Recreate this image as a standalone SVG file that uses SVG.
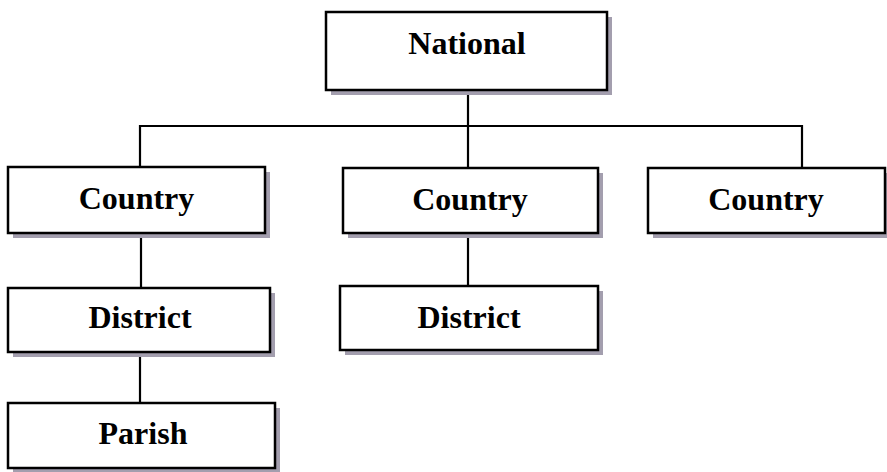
<svg xmlns="http://www.w3.org/2000/svg" width="887" height="472" viewBox="0 0 887 472">
<style>
.shadow{fill:#a39eae;stroke:none}
.box{fill:#ffffff;stroke:#000000;stroke-width:2.5}
.lbl{font-family:"Liberation Serif","Times New Roman",serif;font-weight:bold;font-size:32px;fill:#000;text-anchor:middle}
.conn{stroke:#000;stroke-width:2.2;fill:none}
</style>
<rect width="887" height="472" fill="#fff"/>
<g id="connectors">
<line class="conn" x1="468" y1="90" x2="468" y2="168"/>
<polyline class="conn" points="140,167 140,126 802,126 802,168"/>
<line class="conn" x1="141" y1="237" x2="141" y2="288"/>
<line class="conn" x1="468" y1="237" x2="468" y2="286"/>
<line class="conn" x1="140" y1="356" x2="140" y2="403"/>
</g>
<g id="national">
<rect class="shadow" x="331" y="17" width="281" height="78"/>
<rect class="box" x="326" y="12" width="281" height="78"/>
<text class="lbl" x="467" y="54">National</text>
</g>
<g id="country1">
<rect class="shadow" x="13" y="172" width="257" height="66"/>
<rect class="box" x="8" y="167" width="257" height="66"/>
<text class="lbl" x="136.5" y="209">Country</text>
</g>
<g id="country2">
<rect class="shadow" x="348" y="173" width="255" height="65"/>
<rect class="box" x="343" y="168" width="255" height="65"/>
<text class="lbl" x="470" y="210">Country</text>
</g>
<g id="country3">
<rect class="shadow" x="653" y="173" width="238" height="65"/>
<rect class="box" x="648" y="168" width="237" height="65"/>
<text class="lbl" x="766" y="210">Country</text>
</g>
<g id="district1">
<rect class="shadow" x="13" y="293" width="262" height="64"/>
<rect class="box" x="8" y="288" width="262" height="64"/>
<text class="lbl" x="140" y="328">District</text>
</g>
<g id="district2">
<rect class="shadow" x="345" y="291" width="258" height="64"/>
<rect class="box" x="340" y="286" width="258" height="64"/>
<text class="lbl" x="469" y="328">District</text>
</g>
<g id="parish">
<rect class="shadow" x="13" y="408" width="267" height="65"/>
<rect class="box" x="8" y="403" width="267" height="65"/>
<text class="lbl" x="143" y="444">Parish</text>
</g>
</svg>
